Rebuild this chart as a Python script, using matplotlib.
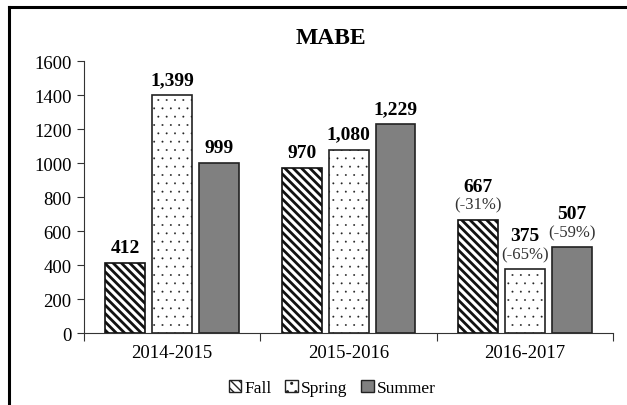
import matplotlib
matplotlib.use('Agg')
import matplotlib.pyplot as plt
import numpy as np
from matplotlib.patches import Patch
from matplotlib.lines import Line2D

seasons = ['2014-2015', '2015-2016', '2016-2017']
series_names = ['Fall', 'Spring', 'Summer']
fall = [412, 970, 667]
spring = [1399, 1080, 375]
summer = [999, 1229, 507]
# change vs. 2014-2015, only shown for last season
fall_pct = [None, None, '(-31%)']
spring_pct = [None, None, '(-65%)']
summer_pct = [None, None, '(-59%)']

plt.rcParams['font.family'] = ['Liberation Serif', 'DejaVu Serif']

fig = plt.figure(figsize=(6.27, 4.06), dpi=100)
ax = fig.add_axes([0.134, 0.177, 0.844, 0.67])

x = np.arange(len(seasons))
width = 0.226
step = 0.266
styles = [
    dict(facecolor='white', hatch='\\\\\\\\', hlw=2.0, edge='#111111'),
    dict(facecolor='white', hatch='..', hlw=0.15, edge='#222222'),
    dict(facecolor='#808080', hatch=None, hlw=1.0, edge='#222222'),
]
all_vals = [fall, spring, summer]
all_pcts = [fall_pct, spring_pct, summer_pct]

for i, (vals, pcts, st) in enumerate(zip(all_vals, all_pcts, styles)):
    pos = x + (i - 1) * step
    with plt.rc_context({'hatch.linewidth': st['hlw']}):
        bars = ax.bar(pos, vals, width, facecolor=st['facecolor'], edgecolor=st['edge'],
                      linewidth=1.2, hatch=st['hatch'], zorder=2)
    for b in bars:
        if hasattr(b, 'set_hatch_linewidth'):
            b.set_hatch_linewidth(st['hlw'])
    for p, v, pc in zip(pos, vals, pcts):
        if pc is None:
            ax.annotate(f'{v:,}', (p, v), xytext=(0, 5), textcoords='offset points',
                        ha='center', va='bottom', fontsize=14, fontweight='bold')
        else:
            ax.annotate(pc, (p, v), xytext=(0, 5), textcoords='offset points',
                        ha='center', va='bottom', fontsize=12, color='#333333')
            ax.annotate(f'{v:,}', (p, v), xytext=(0, 18), textcoords='offset points',
                        ha='center', va='bottom', fontsize=14, fontweight='bold')

ax.set_xlim(-0.5, len(seasons) - 0.5)
ax.set_ylim(0, 1600)
ax.set_yticks(range(0, 1601, 200))
ax.set_xticks(np.arange(-0.5, len(seasons), 1.0))
ax.set_xticklabels([])
ax.set_xticks(x, minor=True)
ax.set_xticklabels(seasons, minor=True)
ax.tick_params(axis='x', which='minor', length=0, pad=8, labelsize=13.5)
ax.tick_params(axis='x', which='major', length=6, color='#333333')
ax.tick_params(axis='y', length=5, labelsize=13.5, color='#333333', pad=4)
for s in ['top', 'right']:
    ax.spines[s].set_visible(False)
for s in ['left', 'bottom']:
    ax.spines[s].set_color('#333333')

fig.text(0.527, 0.905, 'MABE', ha='center', va='center', fontsize=17, fontweight='bold')

handles = [Patch(facecolor=st['facecolor'], edgecolor='#222222', hatch=st['hatch'], linewidth=1)
           for st in styles]
fig.legend(handles, series_names, loc='center', bbox_to_anchor=(0.53, 0.042), ncol=3,
           frameon=False, fontsize=12.5, handlelength=0.7, handleheight=0.7,
           handletextpad=0.2, columnspacing=0.8, borderpad=0.1)

# outer frame (top and left edges only visible)
fig.add_artist(Line2D([9 / 627, 9 / 627], [0, 1 - 8 / 406], color='black', lw=2.2,
                      transform=fig.transFigure))
fig.add_artist(Line2D([9 / 627, 1], [1 - 8 / 406, 1 - 8 / 406], color='black', lw=2.2,
                      transform=fig.transFigure))

fig.savefig('out.png', dpi=100)
